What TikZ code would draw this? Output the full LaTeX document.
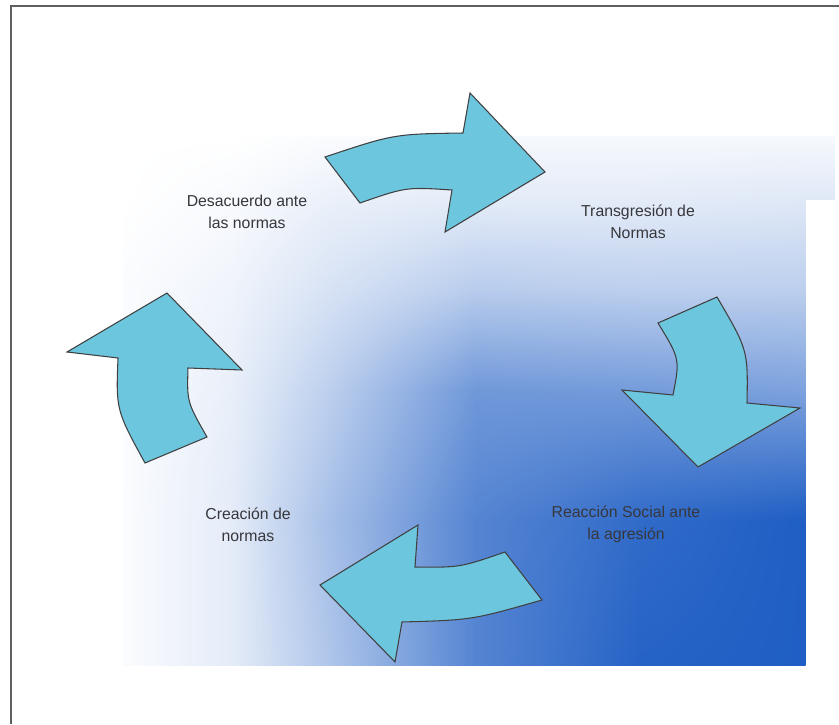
\documentclass[tikz,border=0pt]{standalone}
\usepackage{fontspec}
\setmainfont{Liberation Sans}
\usetikzlibrary{shadings}
\definecolor{deepblue}{RGB}{31,94,196}
\definecolor{arrowfill}{RGB}{108,198,222}
\definecolor{framegray}{RGB}{95,95,95}
\definecolor{textgray}{RGB}{55,55,60}
\begin{document}
\begin{tikzpicture}[x=0.02cm,y=-0.02cm,
	cyclearrow/.style={fill=arrowfill,draw=black!75,line width=0.6pt,line join=miter},
	steptext/.style={align=center,text=textgray,font=\fontsize{9}{12.5}\selectfont}]
	\useasboundingbox (0,0) rectangle (839,724);
	\def\gridx{{123,232,330,475,640,805}}
	\def\gridy{{136,199,290,390,520,665}}
	% percent of blue at each grid point, one row per \gridy
	\def\share{{0,0,2,4,4,4,
		0,3,9,12,12,14,
		2,7,18,32,30,30,
		2,10,30,64,62,58,
		2,12,40,76,92,100,
		2,12,36,76,97,100}}
	%frame
	\draw[framegray,line width=1.2pt] (11,724) -- (11,6) -- (839,6);
	% background
	\foreach \i in {0,...,4}
		\foreach \j in {0,...,4}
		{
			\pgfmathsetmacro\xa{\gridx[\i]}
			\pgfmathsetmacro\xb{\gridx[\i+1]}
			\pgfmathsetmacro\ya{\gridy[\j]}
			\pgfmathsetmacro\yb{\gridy[\j+1]}
			\pgfmathsetmacro\pul{\share[6*\j+\i]}
			\pgfmathsetmacro\pur{\share[6*\j+\i+1]}
			\pgfmathsetmacro\pll{\share[6*\j+\i+6]}
			\pgfmathsetmacro\plr{\share[6*\j+\i+7]}
			\shade[upper left=deepblue!\pul!white,upper right=deepblue!\pur!white,
				lower left=deepblue!\pll!white,lower right=deepblue!\plr!white]
				(\xa,\ya) rectangle (\xb+0.6,\yb+0.6);
		}
	\shade[upper left=deepblue!4!white,upper right=deepblue!4!white,
		lower left=deepblue!14!white,lower right=deepblue!14!white] (805,136) rectangle (835,199);
	% arrows
	\draw[cyclearrow] (325,157) .. controls (394,134) .. (463,133) -- (470,93) -- (545,172)
		-- (445,232) -- (452,190) .. controls (406,187) .. (360,203) -- cycle;
	\draw[cyclearrow] (658,323) -- (717,297) .. controls (748,350) .. (747,403) -- (800,408)
		-- (698,467) -- (622,390) -- (673,395) .. controls (680,359) .. cycle;
	\draw[cyclearrow] (505,552) -- (542,600) .. controls (472,620) .. (402,622) -- (395,662)
		-- (320,585) -- (418,525) -- (415,567) .. controls (460,567.5) .. cycle;
	\draw[cyclearrow] (167,293) -- (242,370) -- (188,368) .. controls (187,402) .. (207,437)
		-- (145,463) .. controls (116,410) .. (118,358) -- (67,352) -- cycle;
	% labels
	\foreach \name/\x/\y/\txt in {desacuerdo/247/211.5/{Desacuerdo ante\\las normas},
		transgresion/638/221.5/{Transgresión de\\Normas},
		reaccion/626/524.5/{Reacción Social ante\\la agresión},
		creacion/248/524.5/{Creación de\\normas}}
		\node[steptext] (\name) at (\x,\y) {\txt};
\end{tikzpicture}
\end{document}
